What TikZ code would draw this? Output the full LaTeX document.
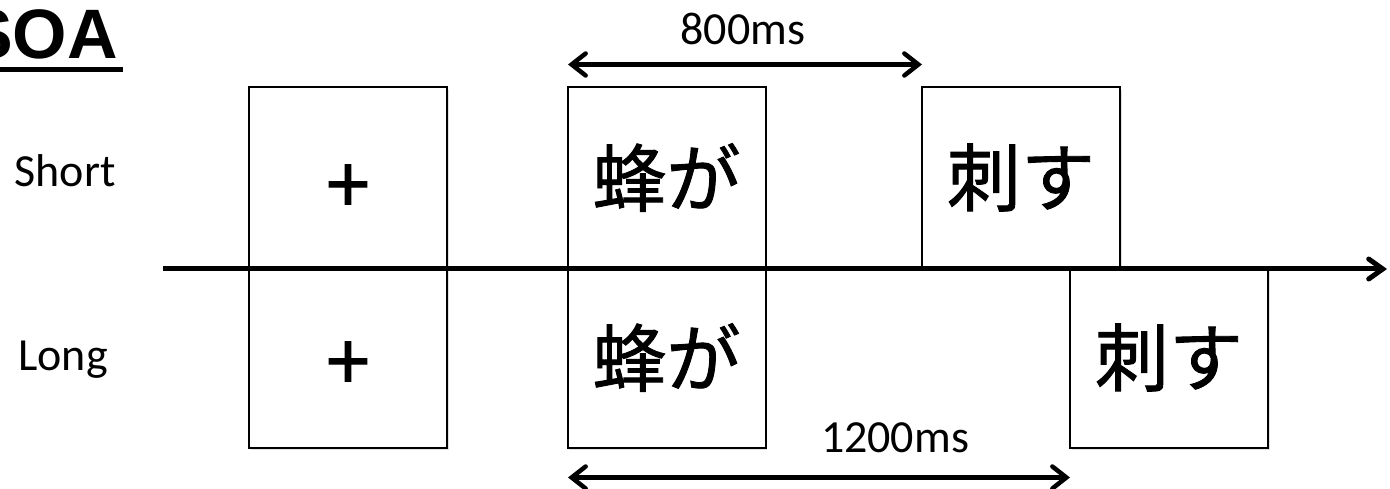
\documentclass[tikz,border=0pt]{standalone}
\usepackage{fontspec}
\setmainfont{Carlito}
\newfontfamily\jpfont{Noto Sans CJK JP}[FakeBold=1.2]
\newfontfamily\plusfont{Noto Sans CJK JP}[FakeBold=1.5]
\newfontfamily\soafont{Liberation Sans}
\usetikzlibrary{arrows.meta,shadows}
\begin{document}
\begin{tikzpicture}[x=1pt,y=-1pt,
  stimbox/.style={draw=black, line width=2pt, fill=white, minimum width=198pt, minimum height=180pt, inner sep=0pt,
    drop shadow={shadow xshift=1.5pt, shadow yshift=-2.5pt, opacity=0.12, fill=black},
    font=\jpfont\fontsize{74}{80}\selectfont},
  plusbox/.style={stimbox},
  plustext/.style={font=\plusfont\fontsize{78}{84}\selectfont, inner sep=0pt},
  lbl/.style={font=\fontsize{46}{52}\selectfont, inner sep=0pt, anchor=base},
  timearrow/.style={line width=4.5pt, {Straight Barb[length=14pt,width=22pt,line cap=round]}-{Straight Barb[length=14pt,width=22pt,line cap=round]}},
  axisline/.style={line width=5pt, -{Straight Barb[length=14pt,width=20pt,line cap=round]}}
]
\useasboundingbox (0,0) rectangle (1390,489);
% title
\node[font=\soafont\bfseries\fontsize{70}{76}\selectfont, anchor=base east, inner sep=0pt] (soa) at (118,59) {SOA};
\coordinate (ulL) at (0,69.5);
\coordinate (ulR) at (123,69.5);
\draw[line width=5pt] (ulL) -- (ulR);
% row labels
\node[lbl] (short) at (65,187) {Short};
\node[lbl] (long) at (63,370) {Long};
% boxes
\node[plusbox] (b1s) at (348,177.5) {};
\node[plusbox] (b1l) at (348,357.5) {};
\node[stimbox] (b2s) at (666.5,177.5) {蜂が};
\node[stimbox] (b2l) at (666.5,357.5) {蜂が};
\node[stimbox] (b3s) at (1021,177.5) {刺す};
\node[stimbox] (b3l) at (1169,357.5) {刺す};
\node[plustext] (p1) at (348,189) {+};
\node[plustext] (p2) at (348,366) {+};
% time axis
\coordinate (axS) at (163,269);
\coordinate (axE) at (1387,269);
\draw[axisline] (axS) -- (axE);
% SOA arrows
\coordinate (s800l) at (568,64.5);
\coordinate (s800r) at (922,64.5);
\draw[timearrow] (s800l) -- (s800r);
\node[lbl] (t800) at (743,45) {800ms};
\coordinate (s1200l) at (568,477.5);
\coordinate (s1200r) at (1070,477.5);
\draw[timearrow] (s1200l) -- (s1200r);
\node[lbl] (t1200) at (895,452) {1200ms};
\end{tikzpicture}
\end{document}
